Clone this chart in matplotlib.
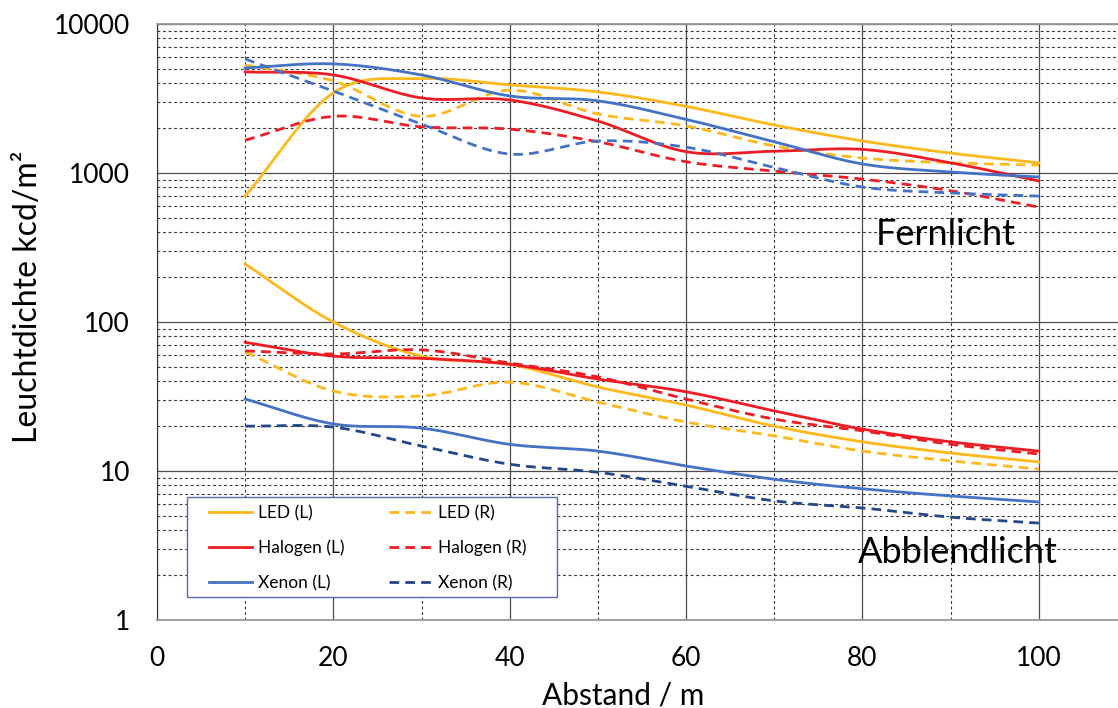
import numpy as np
import matplotlib
matplotlib.use("Agg")
import matplotlib.pyplot as plt
from matplotlib.ticker import FixedLocator, NullFormatter
from matplotlib.patches import Rectangle

plt.rcParams['font.family'] = ['Lato', 'DejaVu Sans']

# Abstand in m
abstand = [10, 20, 30, 40, 50, 60, 70, 80, 90, 100]

# Fernlicht, Leuchtdichte in kcd/m2
fern_led_l = [700, 3450, 4300, 3900, 3500, 2800, 2100, 1640, 1360, 1170]
fern_led_r = [5300, 4150, 2400, 3600, 2490, 2070, 1520, 1260, 1170, 1130]
fern_hal_l = [4770, 4550, 3190, 3090, 2230, 1390, 1400, 1440, 1170, 885]
fern_hal_r = [1660, 2400, 2040, 1970, 1620, 1190, 1030, 910, 760, 590]
fern_xen_l = [5070, 5400, 4550, 3290, 3050, 2290, 1620, 1150, 1015, 940]
fern_xen_r = [5820, 3550, 2130, 1340, 1640, 1490, 1090, 805, 735, 700]

# Abblendlicht
abbl_led_l = [245, 100, 59, 52, 36.6, 27.7, 20, 15.7, 13.2, 11.5]
abbl_led_r = [63, 34.4, 31.9, 39.5, 29, 21.3, 17.2, 13.6, 11.7, 10.3]
abbl_hal_l = [73, 59, 57, 52, 41.4, 34, 25.3, 19.1, 15.7, 13.6]
abbl_hal_r = [64, 61, 65, 53, 42.8, 30.4, 22.3, 18.6, 15.1, 13.0]
abbl_xen_l = [30.4, 20.7, 19.4, 15.1, 13.6, 10.8, 8.8, 7.6, 6.8, 6.2]
abbl_xen_r = [20, 19.7, 14.7, 11.1, 9.8, 7.9, 6.3, 5.65, 4.9, 4.47]

y_ticks = [1, 10, 100, 1000, 10000]
x_ticks = [0, 20, 40, 60, 80, 100]

gelb = '#FFB81C'
rot = '#EE1C25'
blau = '#4472C4'
dunkelblau = '#25468A'


def glatt(x, y, n=30):
    # Catmull-Rom Glaettung im log-Raum (wie "geglaettete Linie")
    x = np.asarray(x, float)
    ly = np.log10(np.asarray(y, float))
    px = np.concatenate([[2 * x[0] - x[1]], x, [2 * x[-1] - x[-2]]])
    py = np.concatenate([[2 * ly[0] - ly[1]], ly, [2 * ly[-1] - ly[-2]]])
    xs, ys = [], []
    for i in range(1, len(px) - 2):
        t = np.linspace(0, 1, n, endpoint=False)
        for p, out in ((px, xs), (py, ys)):
            p0, p1, p2, p3 = p[i - 1], p[i], p[i + 1], p[i + 2]
            out.append(0.5 * (2 * p1 + (-p0 + p2) * t
                              + (2 * p0 - 5 * p1 + 4 * p2 - p3) * t ** 2
                              + (-p0 + 3 * p1 - 3 * p2 + p3) * t ** 3))
    xs = np.concatenate(xs + [[x[-1]]])
    ys = np.concatenate(ys + [[ly[-1]]])
    return xs, 10 ** ys


fig = plt.figure(figsize=(11.18, 7.08), dpi=100)
ax = fig.add_axes([157 / 1118, (708 - 620) / 708, 970 / 1118, 596 / 708])

ax.set_yscale('log')
ax.set_ylim(1, 10000)
ax.set_xlim(0, 110)

# Gitter
ax.yaxis.set_major_locator(FixedLocator(y_ticks))
ax.yaxis.set_minor_locator(FixedLocator([m * 10 ** e for e in range(4) for m in range(2, 10)]))
ax.yaxis.set_minor_formatter(NullFormatter())
ax.xaxis.set_major_locator(FixedLocator(x_ticks))
ax.xaxis.set_minor_locator(FixedLocator([10, 30, 50, 70, 90]))
ax.grid(which='major', color='#4d4d4d', lw=0.9, ls='-')
ax.grid(which='minor', color='#333333', lw=0.8, ls=(0, (2.5, 2.5)))
ax.tick_params(which='both', length=0)
ax.tick_params(axis='y', labelsize=19, pad=19.5)
ax.tick_params(axis='x', labelsize=19, pad=19)
ax.set_yticklabels([str(v) for v in y_ticks])
ax.set_xticklabels([str(v) for v in x_ticks])
ax.set_axisbelow(True)

for s in ['top', 'bottom']:
    ax.spines[s].set_color('#999999')
    ax.spines[s].set_linewidth(1.3)
ax.spines['left'].set_color('#333333')
ax.spines['right'].set_visible(False)

lw = 2.0
ds = (0, (3.5, 2.2))
reihen = [
    (abbl_led_l, gelb, '-', 'LED (L)'),
    (abbl_led_r, gelb, ds, 'LED (R)'),
    (abbl_hal_l, rot, '-', 'Halogen (L)'),
    (abbl_hal_r, rot, ds, 'Halogen (R)'),
    (abbl_xen_l, blau, '-', 'Xenon (L)'),
    (abbl_xen_r, dunkelblau, ds, 'Xenon (R)'),
    (fern_led_l, gelb, '-', None),
    (fern_led_r, gelb, ds, None),
    (fern_hal_l, rot, '-', None),
    (fern_hal_r, rot, ds, None),
    (fern_xen_l, blau, '-', None),
    (fern_xen_r, blau, ds, None),
]
handles = {}
for werte, farbe, stil, name in reihen:
    xs, ys = glatt(abstand, werte)
    ln, = ax.plot(xs, ys, color=farbe, ls=stil, lw=lw)
    if name:
        handles[name] = ln

# Legendenrahmen separat, damit der Innenabstand frei waehlbar ist
rahmen = Rectangle((0.0309, 0.0386), 0.3815, 0.1678, transform=ax.transAxes,
                   facecolor='white', edgecolor='#5a6aa8', lw=1.0, zorder=4)
ax.add_patch(rahmen)

reihenfolge = ['LED (L)', 'Halogen (L)', 'Xenon (L)', 'LED (R)', 'Halogen (R)', 'Xenon (R)']
leg = ax.legend([handles[k] for k in reihenfolge], reihenfolge, ncol=2,
                loc='upper left', bbox_to_anchor=(0.0536, 0.193),
                fontsize=12.5, handlelength=2.5, handletextpad=0.3,
                columnspacing=2.6, frameon=False, borderpad=0,
                labelspacing=1.08, borderaxespad=0)
leg.set_zorder(5)

ax.text(89.5, 384, 'Fernlicht', fontsize=26, ha='center', va='center')
ax.text(90.8, 2.86, 'Abblendlicht', fontsize=26, ha='center', va='center')

ax.set_xlabel('Abstand / m', fontsize=21.5, labelpad=7, x=0.481)
ax.set_ylabel('Leuchtdichte kcd/m²', fontsize=23, labelpad=8, y=0.542)

fig.savefig('out.png', dpi=100)
